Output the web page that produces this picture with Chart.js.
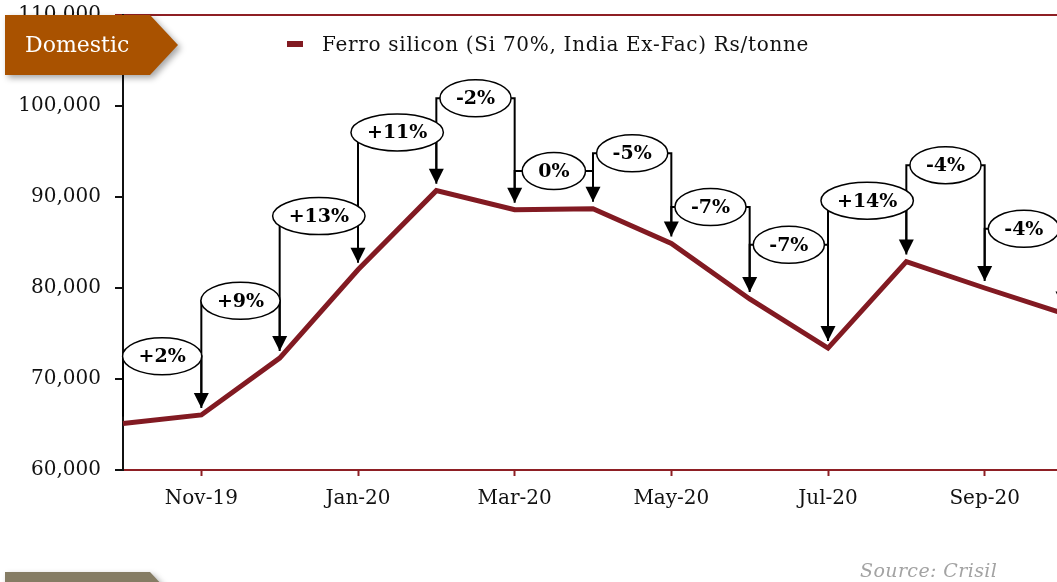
<!DOCTYPE html>
<html>
<head>
<meta charset="utf-8">
<script src="https://cdn.jsdelivr.net/npm/chart.js@4.4.1/dist/chart.umd.min.js"></script>
<style>
  html, body { margin: 0; padding: 0; overflow: hidden; background: #fff; }
  body { width: 1057px; height: 582px; position: relative; font-family: "DejaVu Serif", serif; }
  #wrap { position: absolute; left: 0; top: 0; width: 1080px; height: 582px; }
  .tag { position: absolute; filter: drop-shadow(3px 3px 3px rgba(0,0,0,0.35)); }
  .tag div {
    width: 173px; height: 60px;
    clip-path: polygon(0 0, 145px 0, 173px 30px, 145px 60px, 0 60px);
    color: #fff; font-size: 22px; line-height: 60px; padding-left: 20px; box-sizing: border-box;
  }
  #legend { position: absolute; left: 287px; top: 32px; font-size: 20px; letter-spacing: 0.7px; color: #111; white-space: nowrap; }
  #legend span.mk { display: inline-block; width: 16px; height: 6px; background: #821a22; vertical-align: middle; margin-right: 19px; position: relative; top: -2px; }
  #source { position: absolute; left: 860px; top: 559px; font-size: 19px; font-style: italic; color: #a3a3a3; letter-spacing: 0.4px; }
</style>
</head>
<body>
<div id="wrap"><canvas id="chart"></canvas></div>
<div id="legend"><span class="mk"></span>Ferro silicon (Si 70%, India Ex-Fac) Rs/tonne</div>
<div class="tag" style="left:5px; top:15px;"><div style="background:#a95200;">Domestic</div></div>
<div class="tag" style="left:5px; top:572px;"><div style="background:#857c64;"></div></div>
<div id="source">Source: Crisil</div>
<script>
// monthly prices, Rs/tonne
const months = ['Oct-19', 'Nov-19', 'Dec-19', 'Jan-20', 'Feb-20', 'Mar-20', 'Apr-20',
    'May-20', 'Jun-20', 'Jul-20', 'Aug-20', 'Sep-20', 'Oct-20'];
const prices = [65100, 66050, 72300, 82000, 90700, 88600, 88700,
    84900, 78800, 73400, 82900, 80000, 77200];
// month-on-month change callouts and the level their bubble sits at
const changeLabels = ['', '+2%', '+9%', '+13%', '+11%', '-2%', '0%',
    '-5%', '-7%', '-7%', '+14%', '-4%', '-4%'];
const labelLevels = [null, 72500, 78600, 87900, 97100, 100850, 92850,
    94800, 88900, 84750, 89600, 93500, 86500];
const yTicks = [60000, 70000, 80000, 90000, 100000, 110000];

const LINE_RED = '#821a22';
const AXIS_RED = '#8e1f24';

const calloutPlugin = {
    id: 'calloutPlugin',
    afterDatasetsDraw(chart) {
        const { ctx, scales: { x, y } } = chart;
        const vals = chart.data.datasets[0].data;
        const bubbles = [];
        ctx.save();
        ctx.strokeStyle = '#000';
        ctx.fillStyle = '#000';
        ctx.lineWidth = 2;
        changeLabels.forEach((txt, i) => {
            if (!txt) return;
            const x0 = x.getPixelForValue(i - 1);
            const x1 = x.getPixelForValue(i);
            const y0 = y.getPixelForValue(vals[i - 1]) - 7;
            const tip = y.getPixelForValue(vals[i]) - 7;
            const ly = y.getPixelForValue(labelLevels[i]);
            ctx.beginPath();
            ctx.moveTo(x0, y0);
            ctx.lineTo(x0, ly);
            ctx.lineTo(x1, ly);
            ctx.lineTo(x1, tip - 14);
            ctx.stroke();
            ctx.beginPath();
            ctx.moveTo(x1 - 7.5, tip - 15);
            ctx.lineTo(x1 + 7.5, tip - 15);
            ctx.lineTo(x1, tip);
            ctx.closePath();
            ctx.fill();
            bubbles.push({ txt, cx: (x0 + x1) / 2, cy: ly });
        });
        ctx.font = 'bold 19px "DejaVu Serif"';
        ctx.textAlign = 'center';
        ctx.textBaseline = 'middle';
        ctx.lineWidth = 1.5;
        bubbles.forEach((b) => {
            const w = ctx.measureText(b.txt).width;
            ctx.beginPath();
            ctx.ellipse(b.cx, b.cy, w / 2 + 16, 18.5, 0, 0, Math.PI * 2);
            ctx.fillStyle = '#fff';
            ctx.fill();
            ctx.stroke();
            ctx.fillStyle = '#000';
            ctx.fillText(b.txt, b.cx, b.cy + 1);
        });
        ctx.restore();
    },
};

new Chart(document.getElementById('chart').getContext('2d'), {
    type: 'line',
    data: {
        labels: months,
        datasets: [{
            label: 'Ferro silicon (Si 70%, India Ex-Fac) Rs/tonne',
            data: prices,
            borderColor: LINE_RED,
            backgroundColor: LINE_RED,
            borderWidth: 5,
            pointRadius: 0,
            tension: 0,
            fill: false,
        }],
    },
    options: {
        responsive: true,
        maintainAspectRatio: false,
        animation: false,
        layout: { padding: { left: 0, right: 17, top: 15, bottom: 0 } },
        plugins: { legend: { display: false }, tooltip: { enabled: false } },
        scales: {
            x: {
                offset: false,
                border: { color: AXIS_RED, width: 2 },
                grid: {
                    drawOnChartArea: false,
                    tickLength: 6,
                    tickWidth: 2,
                    tickColor: (c) => (c.index % 2 === 1 ? AXIS_RED : 'transparent'),
                },
                ticks: {
                    autoSkip: false,
                    maxRotation: 0,
                    padding: 11,
                    color: '#111',
                    font: { family: 'DejaVu Serif', size: 20 },
                    callback: (v, i) => (i % 2 === 1 ? months[i] : ''),
                },
                afterFit: (s) => {
                    s.height = 112;
                    s.paddingLeft = 0;
                    s.paddingRight = 0;
                },
            },
            y: {
                min: 60000,
                max: 110000,
                afterBuildTicks: (s) => { s.ticks = yTicks.map((v) => ({ value: v })); },
                border: { color: '#111', width: 2 },
                grid: {
                    tickLength: 8,
                    tickWidth: 2,
                    tickColor: (c) => (c.tick && c.tick.value === 110000 ? AXIS_RED : '#111'),
                    color: (c) => (c.tick && c.tick.value === 110000 ? AXIS_RED : 'transparent'),
                    lineWidth: 2,
                },
                ticks: {
                    padding: 14,
                    color: '#111',
                    font: { family: 'DejaVu Serif', size: 20 },
                    callback: (v) => v.toLocaleString('en-US'),
                },
                afterFit: (s) => {
                    s.width = 123;
                    s.paddingTop = 0;
                    s.paddingBottom = 0;
                },
            },
        },
    },
    plugins: [calloutPlugin],
});
</script>
</body>
</html>
